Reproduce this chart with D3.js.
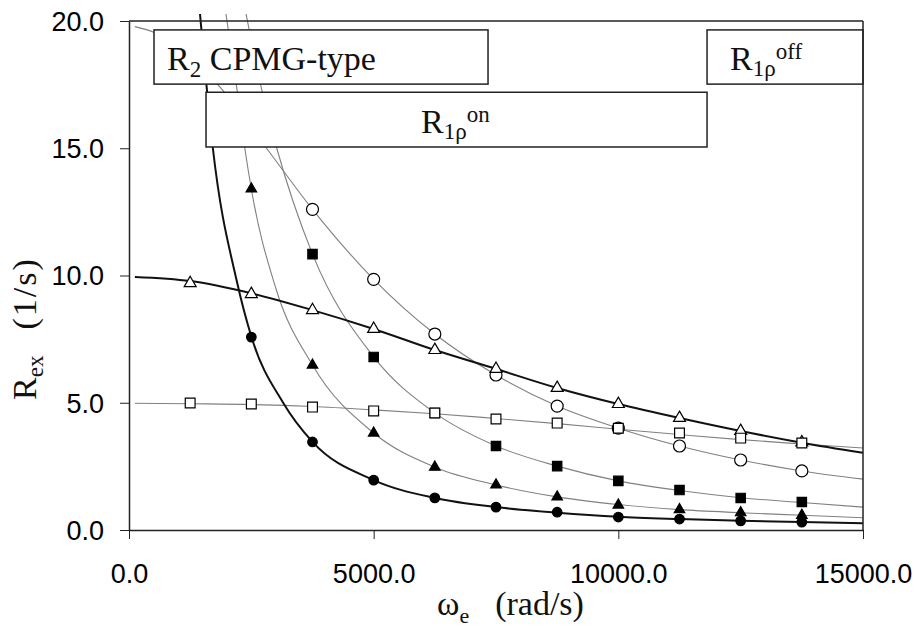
<!DOCTYPE html>
<html>
<head>
<meta charset="utf-8">
<script src="https://cdn.jsdelivr.net/npm/d3@7"></script>
<style>
  body { margin: 0; background: #fff; }
  svg { display: block; }
  .tick text { font-family: "Liberation Sans", Arial, sans-serif; }
  .serif { font-family: "Liberation Serif", "Times New Roman", serif; fill: #111; }
</style>
</head>
<body>
<svg width="916" height="630"></svg>
<script>
// tick values
var xTicks = [0, 5000, 10000, 15000];
var yTicks = [0, 5, 10, 15, 20];

// measured points (omega_e in rad/s, Rex in 1/s)
var wPts = [1250, 2500, 3750, 5000, 6250, 7500, 8750, 10000, 11250, 12500, 13750];
var filledCircle = [null, 7.58, 3.46, 1.96, 1.26, 0.9, 0.7, 0.51, 0.43, 0.36, 0.31];
var filledTriangle = [null, 13.4, 6.48, 3.81, 2.47, 1.77, 1.3, 0.98, 0.8, 0.68, 0.58];
var filledSquare = [null, null, 10.84, 6.8, 4.6, 3.3, 2.51, 1.93, 1.57, 1.26, 1.1];
var openCircle = [null, null, 12.6, 9.85, 7.7, 6.09, 4.87, 4.0, 3.3, 2.75, 2.32];
var openTriangle = [9.7, 9.27, 8.64, 7.9, 7.07, 6.33, 5.58, 4.95, 4.4, 3.89, 3.44];
var openSquare = [4.99, 4.95, 4.83, 4.68, 4.6, 4.36, 4.2, 4.0, 3.81, 3.61, 3.42];

// fitted curves: [omega, Rex]
var curveFilledCircle = [[1450, 20.3], [1714, 15], [2200, 9.8], [2500, 7.6], [3150, 5.0], [3750, 3.46],
  [5000, 1.96], [6250, 1.26], [7500, 0.9], [8750, 0.68], [10000, 0.52], [11250, 0.43],
  [12500, 0.36], [13750, 0.31], [15000, 0.27]];
var curveFilledTriangle = [[1980, 20.3], [2200, 17.4], [2367, 15], [2500, 13.4], [3000, 9.5], [3750, 6.48],
  [5000, 3.81], [6250, 2.47], [7500, 1.77], [8750, 1.3], [10000, 1.0], [11250, 0.8],
  [12500, 0.68], [13750, 0.58], [15000, 0.48]];
var curveFilledSquare = [[2390, 20.3], [2700, 17.4], [3020, 15], [3750, 10.84], [5000, 6.8], [6250, 4.6],
  [7500, 3.3], [8750, 2.51], [10000, 1.93], [11250, 1.55], [12500, 1.27], [13750, 1.08], [15000, 0.9]];
var curveOpenCircle = [[120, 19.78], [490, 19.57], [1000, 19.0], [1860, 17.4], [2810, 15], [3750, 12.6],
  [5000, 9.85], [6250, 7.7], [7500, 6.09], [8750, 4.87], [10000, 4.0], [11250, 3.3],
  [12500, 2.75], [13750, 2.32], [15000, 2.0]];
var curveOpenTriangle = [[120, 9.94], [1250, 9.78], [2500, 9.3], [3750, 8.64], [5000, 7.9], [6250, 7.07],
  [7500, 6.33], [8750, 5.58], [10000, 4.95], [11250, 4.4], [12500, 3.89], [13750, 3.43], [15000, 3.03]];
var curveOpenSquare = [[120, 4.98], [1250, 4.96], [2500, 4.93], [3750, 4.85], [5000, 4.72], [6250, 4.57],
  [7500, 4.38], [8750, 4.18], [10000, 3.96], [11250, 3.75], [12500, 3.55], [13750, 3.38], [15000, 3.22]];

// label boxes in data units: [w0, w1, rTop, rBottom]
var boxCpmg = [511, 7337, 19.65, 17.52];
var boxOn = [1574, 11813, 17.2, 15.05];
var boxOff = [11813, 15000, 19.65, 17.52];

var svg = d3.select('svg');

var x = d3.scaleLinear().domain([0, 15000]).range([129, 863]);
var y = d3.scaleLinear().domain([0, 20]).range([530, 21]);

svg.append("defs").append("clipPath").attr("id", "clip")
  .append("rect").attr("x", 129).attr("y", 14).attr("width", 738).attr("height", 517);

var line = d3.line()
  .x(function(d) { return x(d[0]); })
  .y(function(d) { return y(d[1]); })
  .curve(d3.curveMonotoneX);

var curves = [
  {pts: curveOpenSquare, thick: false},
  {pts: curveOpenCircle, thick: false},
  {pts: curveFilledSquare, thick: false},
  {pts: curveFilledTriangle, thick: false},
  {pts: curveOpenTriangle, thick: true},
  {pts: curveFilledCircle, thick: true}
];

var curveG = svg.append("g").attr("clip-path", "url(#clip)");
curves.forEach(function(c) {
  curveG.append("path")
    .attr("d", line(c.pts))
    .attr("fill", "none")
    .attr("stroke", c.thick ? "#111" : "#808080")
    .attr("stroke-width", c.thick ? 2 : 1.1);
});

// boxes drawn over the curves
function box(b) {
  svg.append("rect")
    .attr("x", x(b[0])).attr("y", y(b[2]))
    .attr("width", x(b[1]) - x(b[0]))
    .attr("height", y(b[3]) - y(b[2]))
    .attr("fill", "#fff")
    .attr("stroke", "#222")
    .attr("stroke-width", 1.5);
}
box(boxCpmg);
box(boxOn);
box(boxOff);

var t1 = svg.append("text").attr("class", "serif").attr("font-size", 34)
  .attr("x", x(777)).attr("y", y(18.07));
t1.append("tspan").text("R");
t1.append("tspan").attr("font-size", 23).attr("dy", 7).text("2");
t1.append("tspan").attr("dy", -7).text(" CPMG-type");

function rho(w, r, sup) {
  var t = svg.append("text").attr("class", "serif").attr("font-size", 34)
    .attr("x", x(w)).attr("y", y(r));
  t.append("tspan").text("R");
  t.append("tspan").attr("font-size", 23).attr("dy", 6).text("1ρ");
  t.append("tspan").attr("font-size", 23).attr("dy", -17).text(sup);
}
rho(5968, 15.6, "on");
rho(12283, 18.07, "off");

// markers
var series = [
  {v: filledCircle, type: d3.symbolCircle, size: 72, fill: "#000"},
  {v: filledTriangle, type: d3.symbolTriangle, size: 48, fill: "#000"},
  {v: filledSquare, type: d3.symbolSquare, size: 88, fill: "#000"},
  {v: openCircle, type: d3.symbolCircle, size: 113, fill: "#fff"},
  {v: openTriangle, type: d3.symbolTriangle, size: 62, fill: "#fff"},
  {v: openSquare, type: d3.symbolSquare, size: 96, fill: "#fff"}
];

series.forEach(function(s) {
  var pts = wPts.map(function(w, i) { return [w, s.v[i]]; })
    .filter(function(d) { return d[1] != null; });
  svg.append("g").selectAll("path")
    .data(pts)
    .enter()
    .append("path")
    .attr("d", d3.symbol().type(s.type).size(s.size))
    .attr("transform", function(d) { return "translate(" + x(d[0]) + "," + y(d[1]) + ")"; })
    .attr("fill", s.fill)
    .attr("stroke", "#000")
    .attr("stroke-width", 1.2);
});

// frame
svg.append("line").attr("x1", x(0)).attr("x2", x(15000)).attr("y1", y(20)).attr("y2", y(20))
  .attr("stroke", "#222").attr("stroke-width", 1.5);
svg.append("line").attr("x1", x(15000)).attr("x2", x(15000)).attr("y1", y(20)).attr("y2", y(0))
  .attr("stroke", "#222").attr("stroke-width", 1.5);

// axes
var xAxis = svg.append("g").attr("transform", "translate(0," + y(0) + ")")
  .call(d3.axisBottom(x).tickValues(xTicks).tickFormat(d3.format(".1f")).tickSize(9).tickSizeOuter(0));
var yAxis = svg.append("g").attr("transform", "translate(" + x(0) + ",0)")
  .call(d3.axisLeft(y).tickValues(yTicks).tickFormat(d3.format(".1f")).tickSize(9).tickSizeOuter(0));

[xAxis, yAxis].forEach(function(a) {
  a.select(".domain").attr("stroke", "#222").attr("stroke-width", 1.5);
  a.selectAll(".tick line").attr("stroke", "#222").attr("stroke-width", 1);
  a.selectAll(".tick text").attr("font-size", 27).attr("fill", "#000");
});
xAxis.selectAll(".tick text").attr("dy", null).attr("y", 53);
yAxis.selectAll(".tick text").attr("x", -25).attr("dy", "0.35em");

// axis titles
var xt = svg.append("text").attr("class", "serif").attr("font-size", 34)
  .attr("x", 437).attr("y", 615);
xt.append("tspan").text("ω");
xt.append("tspan").attr("font-size", 22).attr("dy", 8).text("e");
xt.append("tspan").attr("dx", 26).attr("dy", -8).text("(rad/s)");

var yt = svg.append("text").attr("class", "serif").attr("font-size", 34)
  .attr("transform", "translate(36,400) rotate(-90)");
yt.append("tspan").text("R");
yt.append("tspan").attr("font-size", 23).attr("dy", 7).text("ex");
yt.append("tspan").attr("dx", 26).attr("dy", -7).attr("letter-spacing", 2).text("(1/s)");
</script>
</body>
</html>
